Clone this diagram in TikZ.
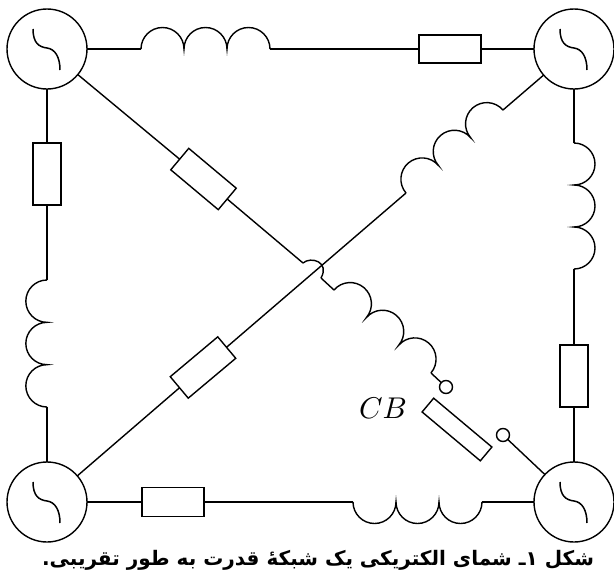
\documentclass[tikz,border=0pt]{standalone}
\usepackage{fontspec}
\usetikzlibrary{calc}
\TeXXeTstate=1
\newfontfamily\arabicfont[Script=Arabic]{DejaVu Sans}
\newcommand{\coil}[3]{%
  \draw[wire] let \p1=($(#2)-(#1)$), \n1={atan2(\y1,\x1)}, \n2={veclen(\x1,\y1)/6} in
    (#1) arc[start angle=\n1+180, delta angle=-180*#3, radius=\n2]
         arc[start angle=\n1+180, delta angle=-180*#3, radius=\n2]
         arc[start angle=\n1+180, delta angle=-180*#3, radius=\n2];
}
\newcommand{\wave}[1]{%
  \draw[wire,line width=1.5pt] ($(#1)+(-14,-20)$)
    .. controls ($(#1)+(-14,-6)$) and ($(#1)+(-8,-2)$) .. ($(#1)+(0,-1)$)
    .. controls ($(#1)+(8,0)$) and ($(#1)+(13,8)$) .. ($(#1)+(13,21)$);
}
\begin{document}
\begin{tikzpicture}[x=1pt,y=-1pt,
  wire/.style={line width=1.4pt,black},
  gen/.style={circle,draw,line width=1.4pt,minimum size=80pt,inner sep=0pt,outer sep=0pt},
  res/.style={rectangle,draw,line width=1.4pt,inner sep=0pt,outer sep=0pt},
  term/.style={circle,draw,line width=1.4pt,minimum size=13pt,inner sep=0pt,outer sep=0pt}]
\useasboundingbox (0,0) rectangle (614,576);
% generators
\node[gen] (g1) at (47,49) {};
\node[gen] (g2) at (574,49) {};
\node[gen] (g3) at (47,502) {};
\node[gen] (g4) at (574,502) {};
\wave{g1}\wave{g2}\wave{g3}\wave{g4}
% resistors
\node[res,minimum width=62pt,minimum height=28pt] (rT) at (450,49) {};
\node[res,minimum width=28pt,minimum height=62pt] (rL) at (47,174) {};
\node[res,minimum width=62pt,minimum height=29pt] (rB) at (173,502) {};
\node[res,minimum width=28pt,minimum height=62pt] (rR) at (574,376) {};
\node[res,minimum width=62pt,minimum height=28pt,rotate=-40] (rD) at (203.5,179) {};
\node[res,minimum width=62pt,minimum height=28pt,rotate=40] (rE) at (203,367.5) {};
\node[res,minimum width=76pt,minimum height=18pt,rotate=-40] (rC) at (457,429.5) {};
% switch terminals
\node[term] (t1) at (446,387) {};
\node[term] (t2) at (503,435) {};
% coil ends
\coordinate (cTa) at (141,49); \coordinate (cTb) at (270,49);
\coordinate (cLa) at (47,280); \coordinate (cLb) at (47,407);
\coordinate (cBa) at (353,502); \coordinate (cBb) at (482,502);
\coordinate (cRa) at (574,143); \coordinate (cRb) at (574,269);
\coordinate (cDa) at (334,290); \coordinate (cDb) at (431,373);
\coordinate (cEa) at (406,193); \coordinate (cEb) at (503,110);
\coordinate (h1) at (303,263); \coordinate (h2) at (321,278);
% coils
\coil{cTa}{cTb}{1}
\coil{cLa}{cLb}{-1}
\coil{cBa}{cBb}{-1}
\coil{cRa}{cRb}{1}
\coil{cDa}{cDb}{1}
\coil{cEa}{cEb}{1}
% connectors
\draw[wire] (g1) -- (cTa);
\draw[wire] (cTb) -- (rT);
\draw[wire] (rT) -- (g2);
\draw[wire] (g1) -- (rL);
\draw[wire] (rL) -- (cLa);
\draw[wire] (cLb) -- (g3);
\draw[wire] (g3) -- (rB);
\draw[wire] (rB) -- (cBa);
\draw[wire] (cBb) -- (g4);
\draw[wire] (g2) -- (cRa);
\draw[wire] (cRb) -- (rR);
\draw[wire] (rR) -- (g4);
\draw[wire] (g1) -- (rD);
\draw[wire] (rD) -- (h1);
\draw[wire] (h1) .. controls (311,256) and (330,262) .. (h2);
\draw[wire] (h2) -- (cDa);
\draw[wire] (cDb) -- (t1);
\draw[wire] (t2) -- (g4);
\draw[wire] (g3) -- (rE);
\draw[wire] (rE) -- (cEa);
\draw[wire] (cEb) -- (g2);
% labels
\node[scale=3,transform shape,inner sep=0pt] (cb) at (383,408) {$CB$};
\node[inner sep=0pt,anchor=center] (cap) at (318,560) {\arabicfont\bfseries\fontsize{20}{24}\selectfont\beginR شکل ۱ـ شمای الکتریکی یک شبکهٔ قدرت به طور تقریبی.\endR};
\end{tikzpicture}
\end{document}
